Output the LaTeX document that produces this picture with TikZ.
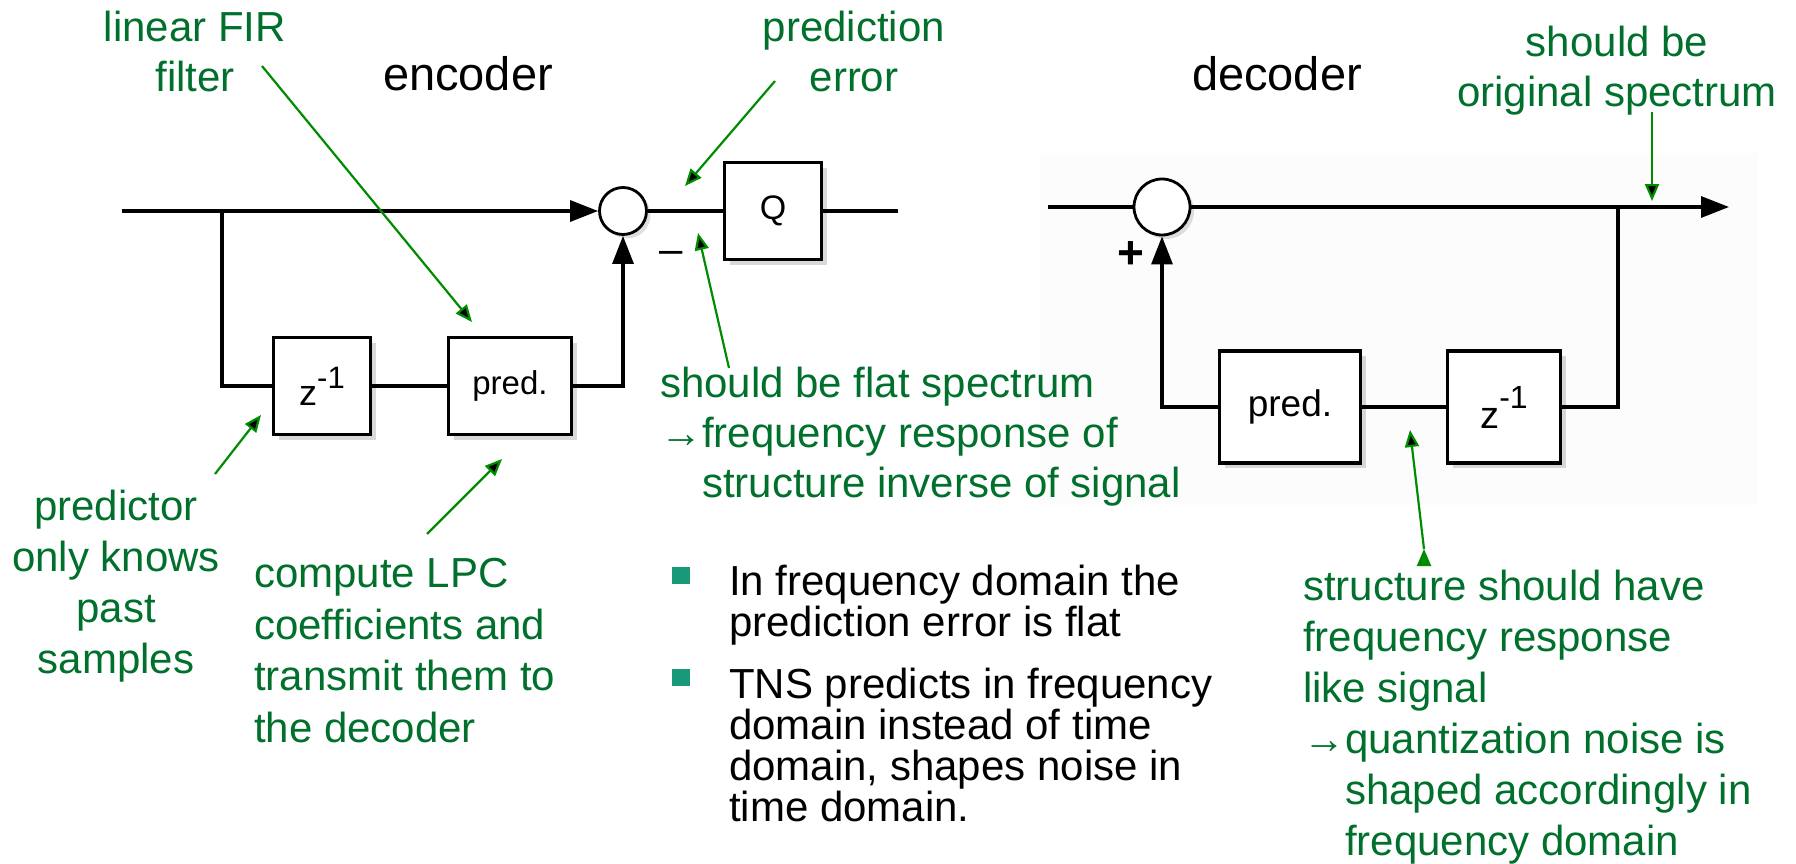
\documentclass[tikz,border=0pt]{standalone}
\usepackage{fontspec}
\setmainfont{Liberation Sans}
\usetikzlibrary{arrows.meta}
\usetikzlibrary{calc}
\usetikzlibrary{positioning}
\usetikzlibrary{shadows}

\definecolor{notegreen}{RGB}{0,112,44}
\definecolor{arrowgreen}{RGB}{0,140,0}
\definecolor{itemteal}{RGB}{23,153,122}

\newcommand{\fsz}[2]{\fontsize{#1}{#2}\selectfont}
\newcommand{\zinv}[3]{z\raisebox{#2pt}{\fsz{#1}{#1}-1}}

\tikzset{
  block/.style={draw, line width=3.2pt, fill=white, inner sep=0pt,
    minimum width=97pt, minimum height=97pt,
    drop shadow={shadow xshift=5pt, shadow yshift=-5pt, opacity=0.3}},
  sum/.style={circle, draw, line width=2.8pt, fill=white, inner sep=0pt,
    minimum size=47pt,
    drop shadow={shadow xshift=4pt, shadow yshift=-4pt, opacity=0.25}},
  wire/.style={line width=3.2pt},
  tip/.style={-{Triangle[length=28pt,width=21pt]}},
  note/.style={text=notegreen, font=\fsz{42}{50}, inner sep=0pt},
  pointer/.style={draw=arrowgreen, line width=2.2pt,
    -{Triangle[length=17pt,width=14pt]}},
  item/.style={font=\fsz{42}{41}, align=left, inner sep=0pt, anchor=base west},
  itemmark/.style={fill=itemteal, minimum width=18pt, minimum height=17pt, inner sep=0pt}
}

\begin{document}
\begin{tikzpicture}[x=1pt, y=-1pt]
  \useasboundingbox (0,0) rectangle (1796,864);
  \fill [black!1.2] (1040,153) rectangle (1757,505);

  % encoder
  \node [sum] (enc_sum) at (623,211) {};
  \node [block] (enc_q) at (773,211) {\fsz{34}{34}Q};
  \node [block] (enc_delay) at (322,386) {\fsz{36}{36}\zinv{31}{17}{}};
  \node [block, minimum width=123pt] (enc_pred) at (510,386) {\fsz{33}{33}pred.};
  \coordinate (enc_in) at (122,211);
  \coordinate (enc_split) at (222,211);
  \coordinate (enc_out) at (898,211);

  \draw [wire, tip] (enc_in) -- (enc_sum.west);
  \draw [wire] (enc_split) |- (enc_delay.west);
  \draw [wire] (enc_delay) -- (enc_pred);
  \draw [wire, tip] (enc_pred.east) -| (enc_sum.south);
  \draw [wire] (enc_sum) -- (enc_q) -- (enc_out);
  \node (minus) at (671,257) {\fsz{42}{42}–};

  % decoder
  \node [sum, minimum size=56pt] (dec_sum) at (1162,207) {};
  \node [block, minimum width=141pt, minimum height=112pt] (dec_pred) at (1290,407) {\fsz{37}{37}pred.};
  \node [block, minimum width=113pt, minimum height=112pt] (dec_delay) at (1504,407) {\fsz{38}{38}\zinv{32}{20}{}};
  \coordinate (dec_in) at (1048,207);
  \coordinate (dec_split) at (1618,207);
  \coordinate (dec_out) at (1729,207);

  \draw [wire] (dec_in) -- (dec_sum.west);
  \draw [wire, tip] (dec_sum.east) -- (dec_out);
  \draw [wire] (dec_split) |- (dec_delay.east);
  \draw [wire] (dec_delay) -- (dec_pred);
  \draw [wire, tip] (dec_pred.west) -| (dec_sum.south);
  \node (plus) at (1131,255) {\fsz{46}{46}\bfseries +};

  % titles
  \node [anchor=base, inner sep=0pt, font=\fsz{47}{50}] (enc_title) at (468,91) {encoder};
  \node [anchor=base, inner sep=0pt, font=\fsz{47}{50}] (dec_title) at (1277,91) {decoder};

  % green notes (placed by the baseline of their last line)
  \node [note, align=center, anchor=base] (fir_note) at (195,92) {linear FIR\\filter};
  \node [note, align=center, anchor=base] (err_note) at (854,92) {prediction\\error};
  \node [note, align=center, anchor=base, font=\fsz{42}{51}] (spec_note) at (1617,107) {should be\\original spectrum};
  \node [note, align=center, anchor=base, font=\fsz{42}{51}] (past_note) at (116,673) {predictor\\only knows\\past\\samples};
  \node [note, align=left, anchor=base west, font=\fsz{42}{51.5}] (lpc_note) at (254,742) {compute LPC\\coefficients and\\transmit them to\\the decoder};
  \node [note, align=left, anchor=base west] (flat_note) at (660,497) {should be flat spectrum\\→frequency response of\\\phantom{→}structure inverse of signal};
  \node [note, align=left, anchor=base west, font=\fsz{42}{51}] (struct_note) at (1303,855) {structure should have\\frequency response\\like signal\\→quantization noise is\\\phantom{→}shaped accordingly in\\\phantom{→}frequency domain};

  \coordinate (fir_from) at (262,66);    \coordinate (fir_to) at (472,322);
  \coordinate (err_from) at (775,81);    \coordinate (err_to) at (685,186);
  \coordinate (spec_from) at (1652,112); \coordinate (spec_to) at (1652,201);
  \coordinate (flat_from) at (729,368);  \coordinate (flat_to) at (698,233);
  \coordinate (past_from) at (215,474);  \coordinate (past_to) at (261,415);
  \coordinate (lpc_from) at (427,534);   \coordinate (lpc_to) at (502,459);
  \coordinate (struct_from) at (1424,549); \coordinate (struct_to) at (1410,430);

  \path [pointer]
    (fir_from) edge (fir_to)
    (err_from) edge (err_to)
    (spec_from) edge (spec_to)
    (flat_from) edge (flat_to)
    (past_from) edge (past_to)
    (lpc_from) edge (lpc_to)
    (struct_from) edge (struct_to);

  % bullet points
  \node [itemmark] (mark_1) at (681,575) {};
  \node [item] (item_1) at (729,636) {In frequency domain the\\prediction error is flat};
  \node [itemmark] (mark_2) at (681,677) {};
  \node [item] (item_2) at (729,821) {TNS predicts in frequency\\domain instead of time\\domain, shapes noise in\\time domain.};
\end{tikzpicture}
\end{document}
